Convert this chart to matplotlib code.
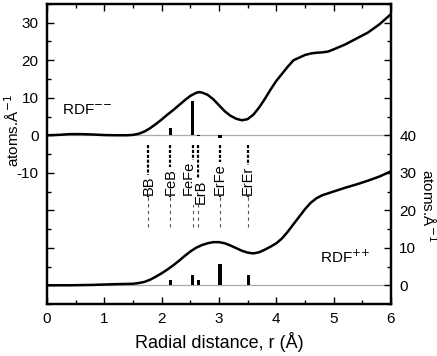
import matplotlib
matplotlib.use("Agg")
import matplotlib.pyplot as plt
import matplotlib.ticker as mticker

plt.rcParams["font.family"] = ["Liberation Sans", "DejaVu Sans"]

# --- dados ---
r_neg = [0, 0.2, 0.4, 0.6, 0.8, 1.0, 1.2, 1.4, 1.5, 1.6, 1.7, 1.8, 1.9, 2.0, 2.1,
         2.2, 2.3, 2.4, 2.5, 2.6, 2.65, 2.7, 2.8, 2.9, 3.0, 3.1, 3.2, 3.3, 3.4,
         3.5, 3.6, 3.7, 3.8, 3.9, 4.0, 4.1, 4.2, 4.3, 4.4, 4.5, 4.6, 4.7, 4.8,
         4.9, 5.0, 5.2, 5.4, 5.6, 5.8, 6.0]
rdf_neg = [0, 0.1, 0.3, 0.3, 0.2, 0.05, 0, 0, 0.1, 0.4, 1.0, 1.9, 3.0, 4.2, 5.5,
           6.7, 8.0, 9.3, 10.5, 11.3, 11.5, 11.4, 10.8, 9.6, 8.0, 6.4, 5.2, 4.4, 4.0,
           4.3, 5.5, 7.4, 9.7, 12.2, 14.5, 16.4, 18.3, 20.0, 20.7, 21.4, 21.8, 22.0, 22.1,
           22.3, 22.9, 24.2, 25.8, 27.4, 29.6, 32.3]

r_pos = [0, 0.4, 0.8, 1.2, 1.5, 1.6, 1.7, 1.8, 1.9, 2.0, 2.1, 2.2, 2.3, 2.4, 2.5,
         2.6, 2.7, 2.8, 2.9, 3.0, 3.1, 3.2, 3.3, 3.4, 3.5, 3.6, 3.7, 3.8, 3.9,
         4.0, 4.1, 4.2, 4.3, 4.4, 4.5, 4.6, 4.7, 4.8, 4.9, 5.0, 5.2, 5.4, 5.6,
         5.8, 6.0]
rdf_pos = [0, 0, 0.1, 0.3, 0.4, 0.6, 0.9, 1.5, 2.3, 3.2, 4.2, 5.3, 6.5, 7.8, 9.0,
           10.0, 10.7, 11.2, 11.5, 11.5, 11.2, 10.6, 9.9, 9.2, 8.7, 8.5, 8.8, 9.5, 10.3,
           11.2, 12.5, 14.3, 16.3, 18.3, 20.3, 22.0, 23.2, 24.0, 24.5, 25.0, 26.0, 26.9, 27.9,
           29.0, 30.4]

pares = ["BB", "FeB", "FeFe", "ErB", "ErFe", "ErEr"]
r_pares = [1.77, 2.15, 2.54, 2.64, 3.02, 3.51]
barras_neg = [0, 2.0, 9.1, -0.3, -0.7, 0]
barras_pos = [0, 1.3, 2.8, 1.3, 5.7, 2.8]

# --- figura ---
fig = plt.figure(figsize=(4.37, 3.56), dpi=100)
ax = fig.add_axes([0.1076, 0.146, 0.7871, 0.8428])
ax2 = ax.twinx()

ax.set_xlim(0, 6)
ax.set_ylim(-45, 35)
ax2.set_ylim(-5, 75)

# linhas de zero
ax.axhline(0, color="#aaaaaa", lw=0.9, zorder=1)
ax2.axhline(0, color="#aaaaaa", lw=0.9, zorder=1)

# curvas
ax.plot(r_neg, rdf_neg, color="black", lw=1.8, zorder=3)
ax2.plot(r_pos, rdf_pos, color="black", lw=1.8, zorder=3)

# barras
ax.bar(r_pares, barras_neg, width=0.06, color="black", zorder=2)
ax2.bar(r_pares, barras_pos, width=0.06, color="black", zorder=2)

# linhas tracejadas e rótulos dos pares
x_rot = {"FeFe": 2.47, "ErB": 2.68}
y_rot = {"ErB": -18.2}
for nome, r in zip(pares, r_pares):
    ax.plot([r, r], [-2.7, -16.5], color="black", lw=1.6,
            dashes=(1.4, 0.8), zorder=2)
    ax.plot([r, r], [-16.5, -25.3], color="#555555", lw=0.8,
            dashes=(3, 3), zorder=2)
    ax.text(x_rot.get(nome, r), y_rot.get(nome, -16.0), nome, rotation=90,
            ha="center", va="bottom", fontsize=10.5, zorder=4,
            bbox=dict(facecolor="white", edgecolor="none", pad=0.8))

# textos RDF
ax.text(0.26, 6.5, r"RDF$^{{-}{-}}$", fontsize=11, ha="left", va="center")
ax2.text(4.77, 7.5, r"RDF$^{{+}{+}}$", fontsize=11, ha="left", va="center")

# eixos
ax.set_xlabel("Radial distance, r (Å)", fontsize=13)
ax.xaxis.set_major_locator(mticker.MultipleLocator(1))
ax.xaxis.set_minor_locator(mticker.MultipleLocator(0.5))

ax.yaxis.set_major_locator(mticker.MultipleLocator(10))
ax.yaxis.set_minor_locator(mticker.MultipleLocator(5))
ax.yaxis.set_major_formatter(mticker.FuncFormatter(
    lambda v, _: f"{v:.0f}" if -10 <= v <= 30 else ""))
ax2.yaxis.set_major_locator(mticker.MultipleLocator(10))
ax2.yaxis.set_minor_locator(mticker.MultipleLocator(5))
ax2.yaxis.set_major_formatter(mticker.FuncFormatter(
    lambda v, _: f"{v:.0f}" if 0 <= v <= 40 else ""))

ax.tick_params(axis="x", which="both", direction="in", top=True, labelsize=11, pad=6)
ax.tick_params(axis="y", which="both", direction="in", labelsize=11, pad=6)
ax2.tick_params(axis="y", which="both", direction="in", labelsize=11, pad=6)
for a in (ax, ax2):
    a.tick_params(which="major", length=5, width=1)
    a.tick_params(which="minor", length=3, width=1)
    for s in a.spines.values():
        s.set_linewidth(1.6)

ax.set_ylabel("atoms.Å$^{-1}$", fontsize=11, va="center")
ax.yaxis.set_label_coords(-0.099, 0.577)
ax2.set_ylabel("atoms.Å$^{-1}$", fontsize=11, rotation=270, va="center")
ax2.yaxis.set_label_coords(1.108, 0.33)

fig.savefig("out.png", dpi=100)
